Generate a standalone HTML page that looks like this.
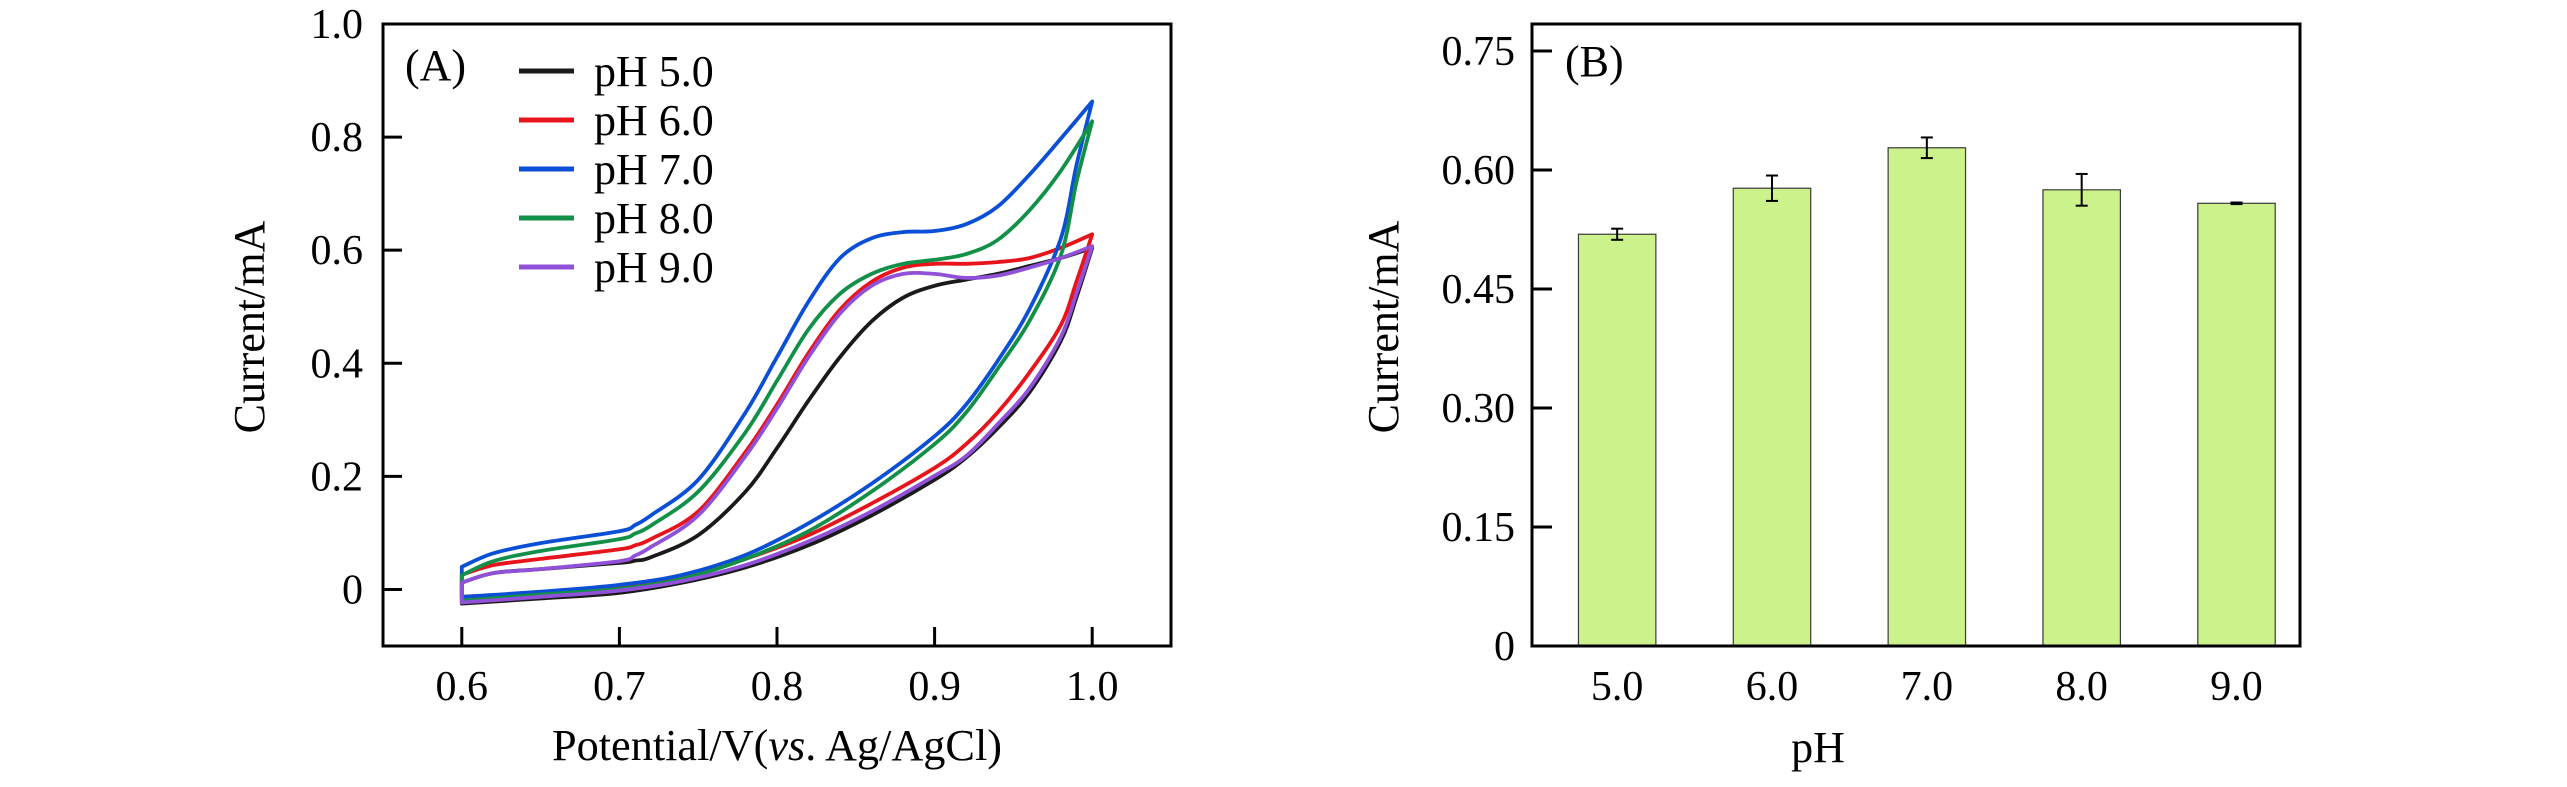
<!DOCTYPE html>
<html><head><meta charset="utf-8"><style>
html,body{margin:0;padding:0;background:#fff;}
svg{display:block;font-family:"Liberation Serif",serif;}
</style></head><body>
<svg id="fig" width="2567" height="787" viewBox="0 0 2567 787" xmlns="http://www.w3.org/2000/svg">
<g id="pa"></g>
<g id="pb"></g>
</svg>
<script>
// ---------- Panel A data ----------
const cvSeriesNames = ["pH 5.0","pH 6.0","pH 7.0","pH 8.0","pH 9.0"];
const cvColors = ["#1a1a1a","#e8141c","#0b4fd6","#129048","#9050d8"];
const cvUpperPotential = [0.6,0.62,0.65,0.7,0.71,0.72,0.75,0.78,0.8,0.82,0.84,0.86,0.88,0.9,0.92,0.94,0.96,0.98,1.0];
const cvLowerPotential = [1.0,0.99,0.98,0.96,0.94,0.92,0.9,0.86,0.82,0.78,0.74,0.7,0.65,0.6];
const cvUpper_pH5 = [0.012,0.029,0.036,0.047,0.051,0.057,0.096,0.173,0.25,0.334,0.411,0.474,0.516,0.537,0.548,0.558,0.572,0.586,0.604];
const cvLower_pH5 = [0.604,0.516,0.439,0.348,0.285,0.233,0.194,0.131,0.078,0.039,0.012,-0.006,-0.016,-0.025];
const cvUpper_pH6 = [0.026,0.043,0.054,0.071,0.078,0.089,0.138,0.243,0.327,0.418,0.495,0.544,0.569,0.576,0.576,0.579,0.586,0.604,0.628];
const cvLower_pH6 = [0.628,0.544,0.467,0.383,0.313,0.257,0.215,0.152,0.096,0.054,0.022,0.005,-0.006,-0.013];
const cvUpper_pH7 = [0.04,0.064,0.082,0.103,0.114,0.131,0.194,0.313,0.411,0.509,0.586,0.621,0.632,0.634,0.646,0.677,0.733,0.797,0.863];
const cvLower_pH7 = [0.863,0.75,0.62,0.495,0.404,0.327,0.271,0.187,0.117,0.061,0.026,0.008,-0.004,-0.013];
const cvUpper_pH8 = [0.025,0.05,0.068,0.089,0.099,0.113,0.173,0.278,0.369,0.46,0.523,0.558,0.576,0.583,0.593,0.618,0.67,0.74,0.828];
const cvLower_pH8 = [0.828,0.72,0.59,0.474,0.39,0.313,0.257,0.173,0.103,0.054,0.019,0.001,-0.009,-0.02];
const cvUpper_pH9 = [0.012,0.029,0.036,0.05,0.06,0.075,0.131,0.236,0.32,0.411,0.488,0.537,0.558,0.558,0.551,0.555,0.569,0.586,0.607];
const cvLower_pH9 = [0.607,0.523,0.446,0.355,0.292,0.236,0.201,0.138,0.085,0.043,0.015,-0.002,-0.013,-0.023];
const cvUppers = [cvUpper_pH5,cvUpper_pH6,cvUpper_pH7,cvUpper_pH8,cvUpper_pH9];
const cvLowers = [cvLower_pH5,cvLower_pH6,cvLower_pH7,cvLower_pH8,cvLower_pH9];
const cvXTicks = [0.6,0.7,0.8,0.9,1.0];
const cvXTickLabels = ["0.6","0.7","0.8","0.9","1.0"];
const cvYTicks = [0,0.2,0.4,0.6,0.8,1.0];
const cvYTickLabels = ["0","0.2","0.4","0.6","0.8","1.0"];

// ---------- Panel B data ----------
const barCategories = ["5.0","6.0","7.0","8.0","9.0"];
const barValues = [0.519,0.577,0.628,0.575,0.558];
const barErrors = [0.007,0.016,0.013,0.02,0.001];
const barYTicks = [0,0.15,0.30,0.45,0.60,0.75];
const barYTickLabels = ["0","0.15","0.30","0.45","0.60","0.75"];

const NS="http://www.w3.org/2000/svg";
function mk(tag,parent,attrs){const e=document.createElementNS(NS,tag);for(const k in attrs)e.setAttribute(k,attrs[k]);parent.appendChild(e);return e;}

// ---------- Panel A ----------
const pa=document.getElementById('pa');
const A={l:383,r:1171,t:24,b:646,x0:0.55,x1:1.05,y0:-0.1,y1:1.0};
const ax=v=>A.l+(v-A.x0)/(A.x1-A.x0)*(A.r-A.l);
const ay=v=>A.b-(v-A.y0)/(A.y1-A.y0)*(A.b-A.t);
function smooth(pts){
  let d="M"+pts[0][0].toFixed(1)+","+pts[0][1].toFixed(1);
  for(let i=0;i<pts.length-1;i++){
    const p0=pts[Math.max(0,i-1)],p1=pts[i],p2=pts[i+1],p3=pts[Math.min(pts.length-1,i+2)];
    const c1x=p1[0]+(p2[0]-p0[0])/6,c1y=p1[1]+(p2[1]-p0[1])/6;
    const c2x=p2[0]-(p3[0]-p1[0])/6,c2y=p2[1]-(p3[1]-p1[1])/6;
    d+=" C"+c1x.toFixed(1)+","+c1y.toFixed(1)+" "+c2x.toFixed(1)+","+c2y.toFixed(1)+" "+p2[0].toFixed(1)+","+p2[1].toFixed(1);
  }
  return d;
}
[0,1,2,3,4].forEach(i=>{
  const up=cvUpperPotential.map((x,j)=>[ax(x),ay(cvUppers[i][j])]);
  const lo=cvLowerPotential.map((x,j)=>[ax(x),ay(cvLowers[i][j])]);
  let d=smooth(up)+" "+smooth(lo).replace(/^M/,"L")+" Z";
  const p=mk('path',pa,{d:d,fill:"none",stroke:cvColors[i],"stroke-width":3.8,"stroke-linejoin":"round"});
  
  
});
const fa=mk('rect',pa,{x:A.l,y:A.t,width:A.r-A.l,height:A.b-A.t,fill:"none",stroke:"#000","stroke-width":3});


cvXTicks.forEach((v,i)=>{
  const t=mk('line',pa,{x1:ax(v),x2:ax(v),y1:A.b,y2:A.b-19,stroke:"#000","stroke-width":3});
  
  
  const tx=mk('text',pa,{x:ax(v),y:700,"font-size":42,"text-anchor":"middle"});
  tx.textContent=cvXTickLabels[i];
  
  
});
cvYTicks.forEach((v,i)=>{
  if(v<1.0){
    const t=mk('line',pa,{x1:A.l,x2:A.l+19,y1:ay(v),y2:ay(v),stroke:"#000","stroke-width":3});
    
    
  }
  const tx=mk('text',pa,{x:363,y:ay(v)+14,"font-size":42,"text-anchor":"end"});
  tx.textContent=cvYTickLabels[i];
  
  
});
const xta=mk('text',pa,{x:777,y:760,"font-size":44,"text-anchor":"middle",textLength:450,lengthAdjust:"spacingAndGlyphs"});
xta.innerHTML='Potential/V(<tspan font-style="italic">vs</tspan>. Ag/AgCl)';


const yta=mk('text',pa,{x:0,y:0,"font-size":44,"text-anchor":"middle",transform:"translate(264,327) rotate(-90)"});
yta.textContent="Current/mA";


const la=mk('text',pa,{x:405,y:80,"font-size":44});
la.textContent="(A)";


cvSeriesNames.forEach((n,i)=>{
  const y=71+i*49;
  const g=mk('g',pa,{});
  
  
  mk('line',g,{x1:519,x2:574,y1:y,y2:y,stroke:cvColors[i],"stroke-width":5});
  const t=mk('text',g,{x:594,y:y+15,"font-size":44});
  t.textContent=n;
});

// ---------- Panel B ----------
const pb=document.getElementById('pb');
const B={l:1532,r:2300,t:24,b:646,x0:4.45,x1:9.41,y0:0,y1:0.784};
const bx=v=>B.l+(v-B.x0)/(B.x1-B.x0)*(B.r-B.l);
const by=v=>B.b-(v-B.y0)/(B.y1-B.y0)*(B.b-B.t);
const barW=0.5;
barCategories.forEach((c,i)=>{
  const cx=bx(parseFloat(c));
  const w=bx(barW)-bx(0);
  const r=mk('rect',pb,{x:cx-w/2,y:by(barValues[i]),width:w,height:by(0)-by(barValues[i]),fill:"#ccf28c",stroke:"#3a3a3a","stroke-width":1.2});
  
  
  const e=mk('g',pb,{stroke:"#000","stroke-width":2});
  
  
  const yt=by(barValues[i]+barErrors[i]),yb=by(barValues[i]-barErrors[i]);
  mk('line',e,{x1:cx,x2:cx,y1:yt,y2:yb});
  mk('line',e,{x1:cx-6,x2:cx+6,y1:yt,y2:yt});
  mk('line',e,{x1:cx-6,x2:cx+6,y1:yb,y2:yb});
  const t=mk('text',pb,{x:cx,y:700,"font-size":42,"text-anchor":"middle"});
  t.textContent=c;
  
  
});
const fb=mk('rect',pb,{x:B.l,y:B.t,width:B.r-B.l,height:B.b-B.t,fill:"none",stroke:"#000","stroke-width":3});


barYTicks.forEach((v,i)=>{
  if(v>0){
    const t=mk('line',pb,{x1:B.l,x2:B.l+20,y1:by(v),y2:by(v),stroke:"#000","stroke-width":3});
    
    
  }
  const tx=mk('text',pb,{x:1515,y:by(v)+14,"font-size":42,"text-anchor":"end"});
  tx.textContent=barYTickLabels[i];
  
  
});
const xtb=mk('text',pb,{x:1818,y:762,"font-size":44,"text-anchor":"middle"});
xtb.textContent="pH";


const ytb=mk('text',pb,{x:0,y:0,"font-size":44,"text-anchor":"middle",transform:"translate(1398,327) rotate(-90)"});
ytb.textContent="Current/mA";


const lb=mk('text',pb,{x:1565,y:76,"font-size":44});
lb.textContent="(B)";


</script>
</body></html>
